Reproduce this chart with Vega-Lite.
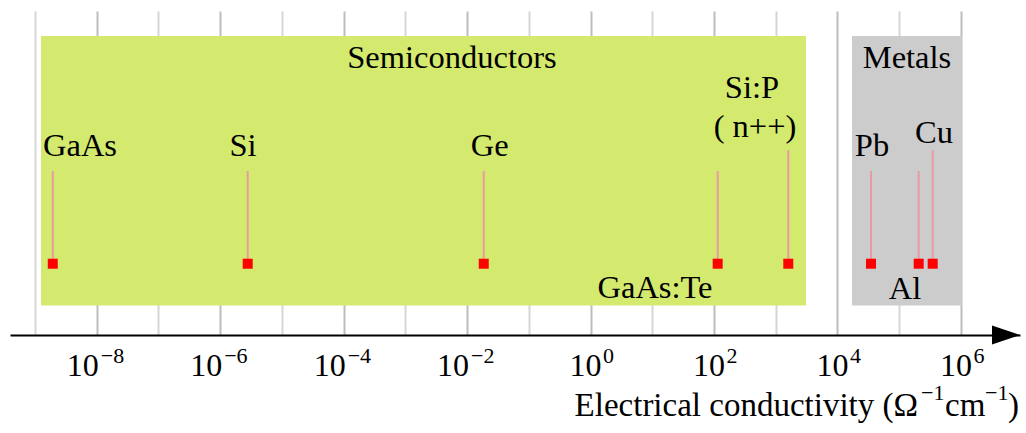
{
  "$schema": "https://vega.github.io/schema/vega-lite/v6.json",
  "width": 1010,
  "height": 324,
  "autosize": {"type": "none"},
  "padding": {"left": 10, "top": 11, "right": 6, "bottom": 98},
  "background": "white",
  "config": {
    "view": {"stroke": null},
    "font": "Liberation Serif",
    "text": {"font": "Liberation Serif"}
  },
  "datasets": {
    "regions": [
      {"region": "Semiconductors", "x1": 1.25e-9, "x2": 3090, "yb": 9.1, "yt": 92.3},
      {"region": "Metals", "x1": 17180, "x2": 1.04e6, "yb": 9.1, "yt": 92.3}
    ],
    "materials": [
      {"name": "GaAs", "sigma": 1.94e-9, "level": 22.0, "stemTop": 50.6},
      {"name": "Si", "sigma": 2.79e-6, "level": 22.0, "stemTop": 50.6},
      {"name": "Ge", "sigma": 0.0186, "level": 22.0, "stemTop": 50.6},
      {"name": "GaAs:Te", "sigma": 114.6, "level": 22.0, "stemTop": 50.6},
      {"name": "Si:P (n++)", "sigma": 1596, "level": 22.0, "stemTop": 57.1},
      {"name": "Pb", "sigma": 34900, "level": 22.0, "stemTop": 50.6},
      {"name": "Al", "sigma": 206800, "level": 22.0, "stemTop": 50.6},
      {"name": "Cu", "sigma": 348500, "level": 22.0, "stemTop": 57.1}
    ],
    "labels": [
      {"label": "Semiconductors", "x": 0.00569, "y": 82.4},
      {"label": "Metals", "x": 133700, "y": 82.4},
      {"label": "GaAs", "x": 5.36e-9, "y": 55.25},
      {"label": "Si", "x": 2.34e-6, "y": 55.25},
      {"label": "Ge", "x": 0.02322, "y": 55.25},
      {"label": "Si:P", "x": 412, "y": 73.05},
      {"label": "( n++)", "x": 461, "y": 61.2},
      {"label": "GaAs:Te", "x": 11.07, "y": 11.42},
      {"label": "Pb", "x": 36200, "y": 55.25},
      {"label": "Cu", "x": 365600, "y": 59.26},
      {"label": "Al", "x": 123900, "y": 11.1}
    ],
    "ticklabels": [
      {"v": 1e-8, "e": "−8"},
      {"v": 1e-6, "e": "−6"},
      {"v": 1e-4, "e": "−4"},
      {"v": 1e-2, "e": "−2"},
      {"v": 1, "e": "0"},
      {"v": 100, "e": "2"},
      {"v": 10000, "e": "4"},
      {"v": 1000000, "e": "6"}
    ],
    "titleparts": [
      {"part": "main", "t": "Electrical conductivity (Ω", "x": 201400, "y": -25.0},
      {"part": "sup", "t": "−1", "x": 225900, "y": -20.06},
      {"part": "main2", "t": "cm", "x": 551400, "y": -25.0},
      {"part": "sup", "t": "−1", "x": 2.453e6, "y": -20.06},
      {"part": "main2", "t": ")", "x": 5.78e6, "y": -25.0}
    ],
    "arrow": [
      {"x": 5.37e6, "y": 0}
    ]
  },
  "layer": [
    {
      "data": {"name": "regions"},
      "mark": {"type": "rect"},
      "encoding": {
        "x": {
          "field": "x1", "type": "quantitative",
          "scale": {"type": "log", "domain": [3.936e-10, 9.05e6], "nice": false},
          "axis": {
            "values": [1e-9, 1e-8, 1e-7, 1e-6, 1e-5, 1e-4, 1e-3, 1e-2, 1e-1, 1, 10, 100, 1000, 1e4, 1e5, 1e6],
            "labels": false,
            "grid": true,
            "gridColor": {"condition": {"test": "round(log(datum.value)/LN10) % 2 == 0", "value": "#bdbdbd"}, "value": "#d6d6d6"},
            "gridWidth": 2,
            "ticks": false,
            "tickSize": 0,
            "domainColor": "black",
            "domainWidth": 2,
            "title": null
          }
        },
        "x2": {"field": "x2"},
        "y": {
          "field": "yb", "type": "quantitative",
          "scale": {"domain": [0, 100], "nice": false, "zero": false},
          "axis": null
        },
        "y2": {"field": "yt"},
        "color": {
          "field": "region", "type": "nominal",
          "scale": {"domain": ["Semiconductors", "Metals"], "range": ["#d4ea6e", "#cccccc"]},
          "legend": null
        }
      }
    },
    {
      "data": {"name": "materials"},
      "mark": {"type": "rule", "color": "#e99aa2", "strokeWidth": 2},
      "encoding": {
        "x": {"field": "sigma", "type": "quantitative"},
        "y": {"field": "level", "type": "quantitative"},
        "y2": {"field": "stemTop"}
      }
    },
    {
      "data": {"name": "materials"},
      "mark": {"type": "point", "shape": "square", "filled": true, "size": 100, "color": "#ff0000", "opacity": 1},
      "encoding": {
        "x": {"field": "sigma", "type": "quantitative"},
        "y": {"field": "level", "type": "quantitative"}
      }
    },
    {
      "data": {"name": "labels"},
      "mark": {"type": "text", "font": "Liberation Serif", "fontSize": 32.5, "color": "black", "align": "center", "baseline": "alphabetic"},
      "encoding": {
        "x": {"field": "x", "type": "quantitative"},
        "y": {"field": "y", "type": "quantitative"},
        "text": {"field": "label"}
      }
    },
    {
      "data": {"name": "ticklabels"},
      "transform": [{"filter": "datum.v < 0.5"}],
      "mark": {"type": "text", "font": "Liberation Serif", "fontSize": 32, "color": "black", "align": "right", "baseline": "alphabetic", "dx": 2},
      "encoding": {
        "x": {"field": "v", "type": "quantitative"},
        "y": {"datum": -12.65, "type": "quantitative"},
        "text": {"value": "10"}
      }
    },
    {
      "data": {"name": "ticklabels"},
      "transform": [{"filter": "datum.v > 0.5"}],
      "mark": {"type": "text", "font": "Liberation Serif", "fontSize": 32, "color": "black", "align": "right", "baseline": "alphabetic", "dx": 11},
      "encoding": {
        "x": {"field": "v", "type": "quantitative"},
        "y": {"datum": -12.65, "type": "quantitative"},
        "text": {"value": "10"}
      }
    },
    {
      "data": {"name": "ticklabels"},
      "transform": [{"filter": "datum.v < 0.5"}],
      "mark": {"type": "text", "font": "Liberation Serif", "fontSize": 22, "color": "black", "align": "left", "baseline": "alphabetic", "dx": 4},
      "encoding": {
        "x": {"field": "v", "type": "quantitative"},
        "y": {"datum": -8.64, "type": "quantitative"},
        "text": {"field": "e"}
      }
    },
    {
      "data": {"name": "ticklabels"},
      "transform": [{"filter": "datum.v > 0.5"}],
      "mark": {"type": "text", "font": "Liberation Serif", "fontSize": 22, "color": "black", "align": "left", "baseline": "alphabetic", "dx": 12.5},
      "encoding": {
        "x": {"field": "v", "type": "quantitative"},
        "y": {"datum": -8.64, "type": "quantitative"},
        "text": {"field": "e"}
      }
    },
    {
      "data": {"name": "titleparts"},
      "transform": [{"filter": "datum.part == 'main'"}],
      "mark": {"type": "text", "font": "Liberation Serif", "fontSize": 33, "color": "black", "align": "right", "baseline": "alphabetic"},
      "encoding": {
        "x": {"field": "x", "type": "quantitative"},
        "y": {"field": "y", "type": "quantitative"},
        "text": {"field": "t"}
      }
    },
    {
      "data": {"name": "titleparts"},
      "transform": [{"filter": "datum.part == 'main2'"}],
      "mark": {"type": "text", "font": "Liberation Serif", "fontSize": 33, "color": "black", "align": "left", "baseline": "alphabetic"},
      "encoding": {
        "x": {"field": "x", "type": "quantitative"},
        "y": {"field": "y", "type": "quantitative"},
        "text": {"field": "t"}
      }
    },
    {
      "data": {"name": "titleparts"},
      "transform": [{"filter": "datum.part == 'sup'"}],
      "mark": {"type": "text", "font": "Liberation Serif", "fontSize": 22, "color": "black", "align": "left", "baseline": "alphabetic"},
      "encoding": {
        "x": {"field": "x", "type": "quantitative"},
        "y": {"field": "y", "type": "quantitative"},
        "text": {"field": "t"}
      }
    },
    {
      "data": {"name": "arrow"},
      "mark": {"type": "point", "shape": "M -1 -0.68 L 1 0 L -1 0.68 Z", "filled": true, "size": 784, "color": "black", "opacity": 1},
      "encoding": {
        "x": {"field": "x", "type": "quantitative"},
        "y": {"field": "y", "type": "quantitative"}
      }
    }
  ]
}
